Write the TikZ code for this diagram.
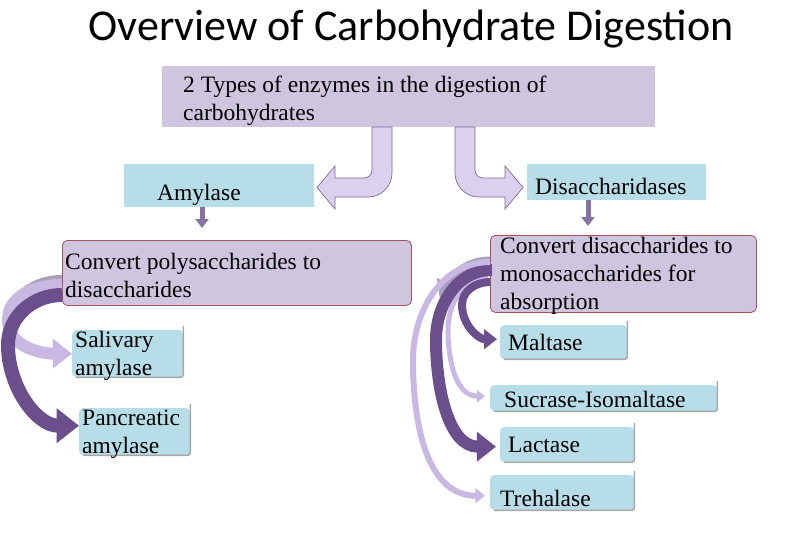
\documentclass[tikz,border=0pt]{standalone}
\usepackage{fontspec}
\setmainfont{Liberation Serif}
\newfontfamily\titlefont{Carlito}
\usetikzlibrary{arrows.meta}
\definecolor{lav}{HTML}{CFC5DF}
\definecolor{lblue}{HTML}{B7DEE8}
\definecolor{redb}{HTML}{A8505A}
\definecolor{arrlight}{HTML}{C9B8E4}
\definecolor{arrdark}{HTML}{6A4F8C}
\definecolor{arrgray}{HTML}{A9A1BC}
\definecolor{bentfill}{HTML}{DCD0EF}
\definecolor{bentline}{HTML}{7A6A9A}
\tikzset{
  box/.style={anchor=north west, inner sep=0pt},
  lavbox/.style={box, fill=lav},
  bluebox/.style={box, fill=lblue},
  redbox/.style={box, fill=lav, draw=redb, line width=0.8pt, rounded corners=5pt},
  smallbox/.style={box, fill=lblue, rounded corners=4pt},
  lbl/.style={anchor=base west, inner sep=0pt, font=\fontsize{23.5}{28}\selectfont},
  shadowline/.style={draw=gray!70, line width=1.5pt},
  curv/.style={line width=#1, line cap=butt, -{Triangle[width=2.4*#1, length=1.6*#1]}},
  downarr/.style={draw=arrdark!80, line width=5pt, -{Triangle[width=13pt,length=9pt]}},
  bent/.style={fill=bentfill, draw=bentline, line width=0.7pt},
}
\begin{document}
\begin{tikzpicture}[x=1pt,y=-1pt]
\useasboundingbox (0,0) rectangle (810,540);
\node[font=\titlefont\fontsize{44}{48}\selectfont] (title) at (411,29) {Overview of Carbohydrate Digestion};

\node[lavbox, minimum width=493pt, minimum height=61pt] (top) at (162,66) {};
\node[bluebox, minimum width=190pt, minimum height=43pt] (amy) at (124,164) {};
\node[bluebox, minimum width=179pt, minimum height=36pt] (dis) at (527,164) {};
\node[redbox, minimum width=349pt, minimum height=65pt] (poly) at (62,240) {};
\node[redbox, minimum width=266pt, minimum height=77pt] (mono) at (490,235) {};
\node[smallbox, minimum width=111pt, minimum height=47pt] (sal) at (72,330) {};
\node[smallbox, minimum width=111pt, minimum height=47pt] (pan) at (79,408) {};
\node[smallbox, minimum width=127pt, minimum height=34pt] (mal) at (500,325) {};
\node[smallbox, minimum width=227pt, minimum height=26pt] (suc) at (490,385) {};
\node[smallbox, minimum width=134pt, minimum height=35pt] (lac) at (500,427) {};
\node[smallbox, minimum width=144pt, minimum height=35pt] (tre) at (490,475) {};
\foreach \b in {sal,pan,mal,suc,lac,tre}{
  \draw[shadowline, rounded corners=3pt] ([xshift=4pt]\b.south west) -- (\b.south east) -- ([yshift=4pt]\b.north east);
}

% labels
\node[lbl] (t1) at (183,93) {2 Types of enzymes in the digestion of};
\node[lbl] (t2) at (183,121) {carbohydrates};
\node[lbl] (t3) at (157,200) {Amylase};
\node[lbl] (t4) at (535,194) {Disaccharidases};
\node[lbl] (t5) at (65,269) {Convert polysaccharides to};
\node[lbl] (t6) at (65,297) {disaccharides};
\node[lbl] (t7) at (500,253) {Convert disaccharides to};
\node[lbl] (t8) at (500,281) {monosaccharides for};
\node[lbl] (t9) at (500,309) {absorption};
\node[lbl] (t10) at (75,347) {Salivary};
\node[lbl] (t11) at (75,375) {amylase};
\node[lbl] (t12) at (82,425) {Pancreatic};
\node[lbl] (t13) at (82,453) {amylase};
\node[lbl] (t14) at (508,350) {Maltase};
\node[lbl] (t15) at (504,407) {Sucrase-Isomaltase};
\node[lbl] (t16) at (508,452) {Lactase};
\node[lbl] (t17) at (500,506) {Trehalase};

% bent arrows
\draw[bent] (372,127) -- (372,170) to[out=-90,in=0] (364,178) -- (335,178) -- (335,166) -- (317,187.5) -- (335,209) -- (335,197) -- (368,197) to[out=0,in=-90] (392,173) -- (392,127) -- cycle;
\draw[bent] (475,127) -- (475,170) to[out=-90,in=180] (483,178) -- (505,178) -- (505,166) -- (523,187.5) -- (505,209) -- (505,197) -- (479,197) to[out=180,in=-90] (455,173) -- (455,127) -- cycle;

% down arrows
\coordinate (amyS) at (202,228);
\coordinate (disS) at (588,226);
\draw[downarr] (202,207) -- (amyS);
\draw[downarr] (588,200) -- (disS);

% left curved arrows
\draw[arrgray, line width=16pt] (62,283) to[out=180,in=40] (20,300);
\draw[curv=12pt, arrlight] (62,285) to[out=180,in=90] (8,320) to[out=-90,in=180] (sal.west);
\draw[curv=14pt, arrdark] (62,295) to[out=180,in=90] (8,345) to[out=-90,in=180] ([yshift=6pt]pan.west);

% right curved arrows
\draw[curv=11pt, arrgray] (490,262) to[out=180,in=60] (440,300);
\draw[curv=5pt, arrlight] (488,278) to[out=180,in=90] (448,330) to[out=-90,in=180] ([xshift=-5pt,yshift=2pt]suc.west);
\draw[curv=8pt, arrdark] (490,282) to[out=180,in=90] (462,305) to[out=-90,in=180] ([xshift=-3pt,yshift=3pt]mal.west);
\draw[curv=12pt, arrdark] (492,270) to[out=180,in=90] (436,340) to[out=-90,in=180] ([xshift=-4pt,yshift=-2pt]lac.west);
\draw[curv=6pt, arrlight] (490,262) to[out=180,in=90] (413,360) to[out=-90,in=180] ([xshift=-5pt,yshift=-3pt]tre.west);
\end{tikzpicture}
\end{document}
